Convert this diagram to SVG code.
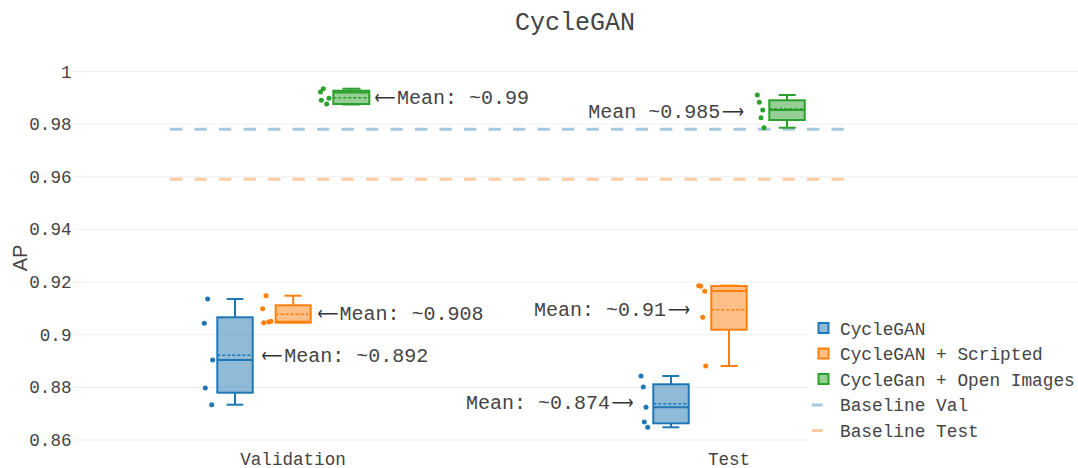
<svg xmlns="http://www.w3.org/2000/svg" width="1078" height="468" viewBox="0 0 1078 468">
<style>
text{font-family:"Liberation Mono","DejaVu Sans Mono",monospace;fill:#444}
.tick{font-size:17.6px;text-anchor:end}
.xl{font-size:17.6px;text-anchor:middle}
.ann{font-size:20px}
.arr{font-family:"DejaVu Sans",sans-serif;font-size:20px;fill:#333}
.leg{font-size:17.8px}
.grid{stroke:#eee;stroke-width:1}
.b{stroke:#1f77b4;fill:rgba(31,119,180,0.5)}
.o{stroke:#ff7f0e;fill:rgba(255,127,14,0.5)}
.g{stroke:#2ca02c;fill:rgba(44,160,44,0.5)}
.box rect{stroke-width:2}
.box line{stroke-width:2}
.box .mean{stroke-width:1.4;stroke-dasharray:3,2}
.pb{fill:#1f77b4}.po{fill:#ff7f0e}.pg{fill:#2ca02c}
.base{stroke-width:3;stroke-dasharray:12.3,12.2;fill:none}
</style>
<rect width="1078" height="468" fill="#fff"/>
<g id="grid">
<line class="grid" x1="73" y1="71.5" x2="1078" y2="71.5"/>
<line class="grid" x1="73" y1="124.1" x2="1078" y2="124.1"/>
<line class="grid" x1="73" y1="176.8" x2="1078" y2="176.8"/>
<line class="grid" x1="73" y1="229.4" x2="1078" y2="229.4"/>
<line class="grid" x1="73" y1="282.1" x2="1078" y2="282.1"/>
<line class="grid" x1="73" y1="334.7" x2="1078" y2="334.7"/>
<line class="grid" x1="73" y1="387.4" x2="1078" y2="387.4"/>
<line class="grid" x1="73" y1="440" x2="1078" y2="440"/>
</g>
<g id="yaxis">
<text class="tick" x="71.5" y="77.5">1</text>
<text class="tick" x="71.5" y="130.1">0.98</text>
<text class="tick" x="71.5" y="182.8">0.96</text>
<text class="tick" x="71.5" y="235.4">0.94</text>
<text class="tick" x="71.5" y="288.1">0.92</text>
<text class="tick" x="71.5" y="340.7">0.9</text>
<text class="tick" x="71.5" y="393.4">0.88</text>
<text class="tick" x="71.5" y="446">0.86</text>
<text x="0" y="0" transform="translate(26.5,258) rotate(-90)" style="font-family:'Liberation Sans',Arial,sans-serif;font-size:20px;text-anchor:middle">AP</text>
</g>
<g id="xaxis">
<text class="xl" x="293" y="465">Validation</text>
<text class="xl" x="729" y="465">Test</text>
</g>
<text x="575" y="30" style="font-size:25px;text-anchor:middle">CycleGAN</text>
<g id="baselines">
<line class="base" x1="170" y1="129.3" x2="844" y2="129.3" stroke="#a5c9e1"/>
<line class="base" x1="170" y1="179.3" x2="844" y2="179.3" stroke="#ffcca2"/>
</g>
<g id="val-cyclegan" class="box b">
<line x1="235" y1="299" x2="235" y2="317.3"/><line x1="226.7" y1="299" x2="243.3" y2="299"/>
<line x1="235" y1="392.7" x2="235" y2="404.7"/><line x1="226.7" y1="404.7" x2="243.3" y2="404.7"/>
<rect x="217.3" y="317.3" width="35.4" height="75.4"/>
<line x1="217.3" y1="360" x2="252.7" y2="360"/>
<line class="mean" x1="217.3" y1="355.3" x2="252.7" y2="355.3"/>
<circle class="pb" stroke="none" cx="207.7" cy="299" r="2.5"/>
<circle class="pb" stroke="none" cx="204.3" cy="323.3" r="2.5"/>
<circle class="pb" stroke="none" cx="212.7" cy="360" r="2.5"/>
<circle class="pb" stroke="none" cx="205.3" cy="388" r="2.5"/>
<circle class="pb" stroke="none" cx="211.7" cy="404.7" r="2.5"/>
</g>
<g id="val-scripted" class="box o">
<line x1="293.2" y1="295.7" x2="293.2" y2="305.3"/><line x1="284.5" y1="295.7" x2="301.5" y2="295.7"/>
<rect x="275.7" y="305.3" width="35" height="17.4"/>
<line x1="275.7" y1="321.7" x2="310.7" y2="321.7"/>
<line class="mean" x1="275.7" y1="314.3" x2="310.7" y2="314.3"/>
<circle class="po" stroke="none" cx="266" cy="295.7" r="2.5"/>
<circle class="po" stroke="none" cx="262.7" cy="308.7" r="2.5"/>
<circle class="po" stroke="none" cx="263.7" cy="322.7" r="2.5"/>
<circle class="po" stroke="none" cx="268.7" cy="322" r="2.5"/>
<circle class="po" stroke="none" cx="271" cy="321.3" r="2.5"/>
</g>
<g id="val-openimages" class="box g">
<line x1="342.5" y1="88.7" x2="360.5" y2="88.7"/><line x1="351.3" y1="88.7" x2="351.3" y2="90.7"/>
<line x1="342.5" y1="104.5" x2="360.5" y2="104.5"/>
<rect x="333.3" y="90.7" width="36" height="13.3"/>
<line x1="333.3" y1="92.5" x2="369.3" y2="92.5"/>
<line class="mean" x1="333.3" y1="97.7" x2="369.3" y2="97.7"/>
<circle class="pg" stroke="none" cx="323.3" cy="88.7" r="2.5"/>
<circle class="pg" stroke="none" cx="320.5" cy="92" r="2.5"/>
<circle class="pg" stroke="none" cx="321.3" cy="100.3" r="2.5"/>
<circle class="pg" stroke="none" cx="329" cy="98.3" r="2.5"/>
<circle class="pg" stroke="none" cx="326.7" cy="104" r="2.5"/>
</g>
<g id="test-cyclegan" class="box b">
<line x1="671" y1="376" x2="671" y2="384.3"/><line x1="662.3" y1="376" x2="679.3" y2="376"/>
<line x1="671" y1="423.3" x2="671" y2="427.3"/><line x1="662.3" y1="427.3" x2="679.3" y2="427.3"/>
<rect x="653.3" y="384.3" width="35.4" height="39"/>
<line x1="653.3" y1="407.3" x2="688.7" y2="407.3"/>
<line class="mean" x1="653.3" y1="403.7" x2="688.7" y2="403.7"/>
<circle class="pb" stroke="none" cx="641" cy="376" r="2.5"/>
<circle class="pb" stroke="none" cx="643.3" cy="387" r="2.5"/>
<circle class="pb" stroke="none" cx="646" cy="407.3" r="2.5"/>
<circle class="pb" stroke="none" cx="644.3" cy="422" r="2.5"/>
<circle class="pb" stroke="none" cx="647.7" cy="427.3" r="2.5"/>
</g>
<g id="test-scripted" class="box o">
<line x1="720.7" y1="285.6" x2="737.7" y2="285.6"/>
<line x1="729" y1="329.7" x2="729" y2="366"/><line x1="720.7" y1="366" x2="737.7" y2="366"/>
<rect x="711.3" y="286" width="35.4" height="43.7"/>
<line x1="711.3" y1="291" x2="746.7" y2="291"/>
<line class="mean" x1="711.3" y1="309.7" x2="746.7" y2="309.7"/>
<circle class="po" stroke="none" cx="698.7" cy="285.7" r="2.5"/>
<circle class="po" stroke="none" cx="700.7" cy="286.3" r="2.5"/>
<circle class="po" stroke="none" cx="704.7" cy="291.3" r="2.5"/>
<circle class="po" stroke="none" cx="702.7" cy="317.3" r="2.5"/>
<circle class="po" stroke="none" cx="705.7" cy="366" r="2.5"/>
</g>
<g id="test-openimages" class="box g">
<line x1="787" y1="95" x2="787" y2="100.3"/><line x1="778.7" y1="95" x2="795.7" y2="95"/>
<line x1="787" y1="120" x2="787" y2="127.7"/><line x1="778.7" y1="127.7" x2="795.7" y2="127.7"/>
<rect x="769.3" y="100.3" width="35.4" height="19.7"/>
<line x1="769.3" y1="110" x2="804.7" y2="110"/>
<line class="mean" x1="769.3" y1="108.7" x2="804.7" y2="108.7"/>
<circle class="pg" stroke="none" cx="757.3" cy="95" r="2.5"/>
<circle class="pg" stroke="none" cx="759.3" cy="102.3" r="2.5"/>
<circle class="pg" stroke="none" cx="762.7" cy="110" r="2.5"/>
<circle class="pg" stroke="none" cx="761" cy="117.7" r="2.5"/>
<circle class="pg" stroke="none" cx="764" cy="127.7" r="2.5"/>
</g>
<g id="annotations">
<text class="ann" y="362"><tspan class="arr" x="261.5" textLength="21" lengthAdjust="spacingAndGlyphs">⟵</tspan><tspan x="284.3">Mean: ~0.892</tspan></text>
<text class="ann" y="320"><tspan class="arr" x="317.5" textLength="21" lengthAdjust="spacingAndGlyphs">⟵</tspan><tspan x="339.5">Mean: ~0.908</tspan></text>
<text class="ann" y="104"><tspan class="arr" x="374.5" textLength="21" lengthAdjust="spacingAndGlyphs">⟵</tspan><tspan x="397">Mean: ~0.99</tspan></text>
<text class="ann" y="118"><tspan x="588.3">Mean ~0.985</tspan><tspan class="arr" x="722" textLength="22" lengthAdjust="spacingAndGlyphs">⟶</tspan></text>
<text class="ann" y="316"><tspan x="534">Mean: ~0.91</tspan><tspan class="arr" x="668" textLength="22" lengthAdjust="spacingAndGlyphs">⟶</tspan></text>
<text class="ann" y="408.5"><tspan x="466">Mean: ~0.874</tspan><tspan class="arr" x="611.5" textLength="22" lengthAdjust="spacingAndGlyphs">⟶</tspan></text>
</g>
<g id="legend">
<rect x="808" y="313" width="270" height="133" fill="#fff"/>
<rect x="818.5" y="323" width="10" height="10" fill="rgba(31,119,180,0.5)" stroke="#1f77b4" stroke-width="2"/>
<text class="leg" x="840" y="334.5">CycleGAN</text>
<rect x="818.5" y="348.5" width="10" height="10" fill="rgba(255,127,14,0.5)" stroke="#ff7f0e" stroke-width="2"/>
<text class="leg" x="840" y="360">CycleGAN + Scripted</text>
<rect x="818.5" y="374" width="10" height="10" fill="rgba(44,160,44,0.5)" stroke="#2ca02c" stroke-width="2"/>
<text class="leg" x="840" y="385.5">CycleGan + Open Images</text>
<line x1="811.7" y1="405" x2="822.7" y2="405" stroke="#a5c9e1" stroke-width="3"/>
<text class="leg" x="840" y="411">Baseline Val</text>
<line x1="811.7" y1="430.5" x2="822.7" y2="430.5" stroke="#ffcca2" stroke-width="3"/>
<text class="leg" x="840" y="436.5">Baseline Test</text>
</g>
</svg>
